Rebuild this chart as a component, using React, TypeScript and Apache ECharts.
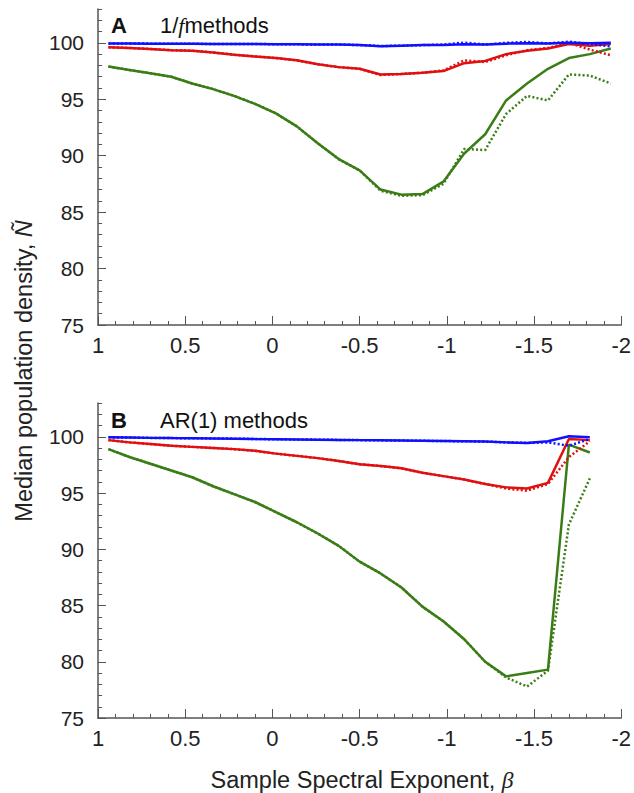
import React, { useEffect, useRef } from 'react';
import * as echarts from 'echarts';

// Sample spectral exponent grid (beta)
const betaA = [0.94, 0.82, 0.7, 0.58, 0.46, 0.34, 0.22, 0.1, -0.02, -0.14, -0.26, -0.38, -0.5, -0.62, -0.74, -0.86, -0.98, -1.1, -1.22, -1.34, -1.46, -1.58, -1.7, -1.82, -1.94];
const betaB = [0.94, 0.82, 0.7, 0.58, 0.46, 0.34, 0.22, 0.1, -0.02, -0.14, -0.26, -0.38, -0.5, -0.62, -0.74, -0.86, -0.98, -1.1, -1.22, -1.34, -1.46, -1.58, -1.7, -1.82];

// Panel A: 1/f methods
const blueA = [99.95, 99.95, 99.93, 99.92, 99.92, 99.9, 99.9, 99.9, 99.88, 99.87, 99.85, 99.85, 99.8, 99.7, 99.75, 99.8, 99.82, 99.88, 99.85, 99.93, 99.97, 99.95, 100.0, 99.97, 100.0];
const blueADot = [99.95, 99.95, 99.93, 99.92, 99.92, 99.9, 99.9, 99.9, 99.88, 99.87, 99.85, 99.85, 99.8, 99.72, 99.75, 99.8, 99.85, 100.02, 99.85, 100.0, 100.08, 99.95, 100.1, 99.9, 99.7];
const redA = [99.6, 99.55, 99.45, 99.35, 99.3, 99.15, 98.95, 98.8, 98.65, 98.45, 98.1, 97.85, 97.7, 97.2, 97.25, 97.35, 97.5, 98.2, 98.4, 99.0, 99.3, 99.5, 99.9, 99.75, 99.9];
const redADot = [99.6, 99.55, 99.45, 99.35, 99.3, 99.15, 98.95, 98.8, 98.65, 98.45, 98.1, 97.85, 97.7, 97.15, 97.25, 97.35, 97.55, 98.45, 98.3, 98.9, 99.35, 99.55, 100.0, 99.4, 98.9];
const greenA = [97.9, 97.6, 97.3, 97.0, 96.4, 95.9, 95.3, 94.6, 93.75, 92.6, 91.1, 89.7, 88.7, 87.0, 86.55, 86.6, 87.7, 90.2, 91.9, 94.9, 96.4, 97.7, 98.65, 99.0, 99.5];
const greenADot = [97.9, 97.6, 97.3, 97.0, 96.4, 95.9, 95.3, 94.6, 93.75, 92.6, 91.1, 89.7, 88.7, 86.9, 86.45, 86.5, 87.5, 90.6, 90.5, 93.7, 95.3, 94.9, 97.2, 97.1, 96.4];

// Panel B: AR(1) methods
const blueB = [99.95, 99.93, 99.9, 99.88, 99.87, 99.85, 99.83, 99.8, 99.78, 99.76, 99.74, 99.72, 99.7, 99.68, 99.66, 99.64, 99.62, 99.6, 99.57, 99.5, 99.45, 99.6, 100.05, 99.95];
const blueBDot = [99.95, 99.93, 99.9, 99.88, 99.87, 99.85, 99.83, 99.8, 99.78, 99.76, 99.74, 99.72, 99.7, 99.68, 99.66, 99.64, 99.62, 99.6, 99.57, 99.5, 99.45, 99.5, 99.2, 99.8];
const redB = [99.7, 99.5, 99.35, 99.2, 99.1, 99.0, 98.9, 98.75, 98.5, 98.3, 98.1, 97.85, 97.55, 97.4, 97.2, 96.8, 96.5, 96.2, 95.8, 95.5, 95.4, 95.9, 99.8, 99.7];
const redBDot = [99.7, 99.5, 99.35, 99.2, 99.1, 99.0, 98.9, 98.75, 98.5, 98.3, 98.1, 97.85, 97.55, 97.4, 97.2, 96.8, 96.5, 96.2, 95.8, 95.4, 95.2, 95.8, 98.2, 99.6];
const greenB = [98.9, 98.2, 97.6, 97.0, 96.4, 95.6, 94.9, 94.2, 93.3, 92.4, 91.4, 90.3, 88.9, 87.85, 86.6, 84.9, 83.6, 82.0, 80.0, 78.7, 79.0, 79.3, 99.3, 98.6];
const greenBDot = [98.9, 98.2, 97.6, 97.0, 96.4, 95.6, 94.9, 94.2, 93.3, 92.4, 91.4, 90.3, 88.9, 87.85, 86.6, 84.9, 83.6, 82.0, 80.0, 78.6, 77.8, 79.2, 92.2, 96.3];

const yMajorTicks = [75, 80, 85, 90, 95, 100];

const FONT = 'Liberation Sans, Arial, Helvetica, sans-serif';
const AXIS = '#555555';
const LABEL = '#222222';
const BLUE = '#1010ff';
const RED = '#e01010';
const GREEN = '#3a7d16';

const pairs = (xs: number[], ys: number[]) => xs.map((x, i) => [x, ys[i]]);

function xAxisFor(gridIndex: number) {
  return {
    type: 'value',
    gridIndex,
    min: -2,
    max: 1,
    interval: 0.5,
    inverse: true,
    axisLine: { show: true, onZero: false, lineStyle: { color: AXIS, width: 1.5 } },
    axisTick: { show: true, inside: true, length: 9, lineStyle: { color: AXIS, width: 1 } },
    minorTick: { show: true, splitNumber: 5, length: 4, lineStyle: { color: AXIS, width: 1 } },
    splitLine: { show: false },
    minorSplitLine: { show: false },
    axisLabel: { color: LABEL, fontSize: 22, fontFamily: FONT, margin: 9 },
  };
}

function yAxesFor(gridIndex: number) {
  return [
    {
      type: 'value',
      gridIndex,
      position: 'left',
      min: 75,
      max: 103,
      interval: 5,
      axisLine: { show: true, onZero: false, lineStyle: { color: AXIS, width: 1.5 } },
      axisTick: { show: true, inside: true, length: 8, customValues: yMajorTicks, lineStyle: { color: AXIS, width: 1 } },
      axisLabel: { color: LABEL, fontSize: 21, fontFamily: FONT, margin: 14, customValues: yMajorTicks },
      splitLine: { show: false },
    },
    {
      type: 'value',
      gridIndex,
      position: 'left',
      offset: 0,
      min: 75,
      max: 103,
      interval: 1,
      axisLine: { show: false, onZero: false },
      axisTick: { show: true, inside: true, length: 4, lineStyle: { color: AXIS, width: 1 } },
      axisLabel: { show: false },
      splitLine: { show: false },
    },
  ];
}

function lineSeries(xi: number, yi: number, xs: number[], ys: number[], color: string, dotted: boolean, z: number) {
  return {
    type: 'line',
    xAxisIndex: xi,
    yAxisIndex: yi,
    data: pairs(xs, ys),
    symbol: 'none',
    smooth: false,
    z,
    lineStyle: { color, width: 2.5, type: dotted ? [2, 2.2] : 'solid', cap: 'butt' },
    silent: true,
  };
}

export default function App() {
  const ref = useRef<HTMLDivElement>(null);
  useEffect(() => {
    if (!ref.current) return;
    const chart = echarts.init(ref.current, undefined, { renderer: 'svg' });
    const option: any = {
      animation: false,
      backgroundColor: '#ffffff',
      grid: [
        { left: 98, top: 9, width: 527, height: 316 },
        { left: 98, top: 403, width: 527, height: 315 },
      ],
      xAxis: [xAxisFor(0), xAxisFor(1)],
      yAxis: [...yAxesFor(0), ...yAxesFor(1)],
      series: [
        lineSeries(0, 0, betaA, greenA, GREEN, false, 2),
        lineSeries(0, 0, betaA, greenADot, GREEN, true, 3),
        lineSeries(0, 0, betaA, redA, RED, false, 4),
        lineSeries(0, 0, betaA, redADot, RED, true, 5),
        lineSeries(0, 0, betaA, blueA, BLUE, false, 6),
        lineSeries(0, 0, betaA, blueADot, BLUE, true, 7),
        lineSeries(1, 2, betaB, greenB, GREEN, false, 2),
        lineSeries(1, 2, betaB, greenBDot, GREEN, true, 3),
        lineSeries(1, 2, betaB, redB, RED, false, 4),
        lineSeries(1, 2, betaB, redBDot, RED, true, 5),
        lineSeries(1, 2, betaB, blueB, BLUE, false, 6),
        lineSeries(1, 2, betaB, blueBDot, BLUE, true, 7),
      ],
      graphic: [
        { type: 'text', x: 111, y: 14, style: { text: 'A', fontSize: 22, fontWeight: 'bold', fontFamily: FONT, fill: '#111111' } },
        {
          type: 'text', x: 160, y: 14,
          style: {
            text: '1/{i|f}methods', fontSize: 22, fontFamily: FONT, fill: '#111111',
            rich: { i: { fontSize: 22, fontStyle: 'italic', fontFamily: 'Liberation Serif, serif', fill: '#111111' } },
          },
        },
        { type: 'text', x: 111, y: 409, style: { text: 'B', fontSize: 22, fontWeight: 'bold', fontFamily: FONT, fill: '#111111' } },
        { type: 'text', x: 160, y: 409, style: { text: 'AR(1) methods', fontSize: 22, fontFamily: FONT, fill: '#111111' } },
        {
          type: 'text', x: 24, y: 371, rotation: Math.PI / 2,
          style: {
            text: 'Median population density, {i|Ñ}', fontSize: 23.5, fontFamily: FONT, fill: '#222222',
            align: 'center', verticalAlign: 'middle', textAlign: 'center', textVerticalAlign: 'middle',
            rich: { i: { fontSize: 23.5, fontStyle: 'italic', fontFamily: FONT, fill: '#222222' } },
          },
        },
        {
          type: 'text', x: 362, y: 780,
          style: {
            text: 'Sample Spectral Exponent, {i|β}', fontSize: 23.5, fontFamily: FONT, fill: '#222222',
            align: 'center', verticalAlign: 'middle', textAlign: 'center', textVerticalAlign: 'middle',
            rich: { i: { fontSize: 23.5, fontStyle: 'italic', fontFamily: 'Liberation Serif, serif', fill: '#222222' } },
          },
        },
      ],
    };
    chart.setOption(option);
    return () => chart.dispose();
  }, []);
  return (
    <div
      ref={ref}
      style={{ position: 'fixed', left: 0, top: 0, width: 634, height: 793, background: '#fff' }}
    />
  );
}
